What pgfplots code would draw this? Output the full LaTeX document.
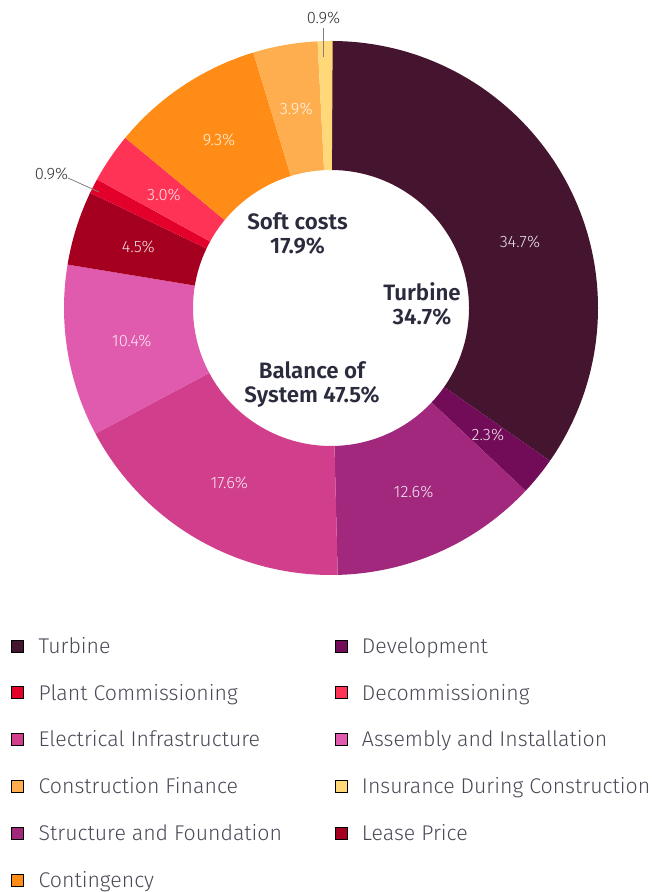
\documentclass[border=0pt]{standalone}
\usepackage{pgfplots}
\pgfplotsset{compat=1.18}
\usepackage{pgfplotstable}
\usepackage{fontspec}
\setmainfont{Fira Sans Light}[BoldFont={Fira Sans SemiBold}]

\definecolor{cTurb}{HTML}{45152F}
\definecolor{cDev}{HTML}{730C58}
\definecolor{cStruct}{HTML}{A2287E}
\definecolor{cElec}{HTML}{D13E8B}
\definecolor{cAssem}{HTML}{E05AAD}
\definecolor{cLease}{HTML}{A5001F}
\definecolor{cPlant}{HTML}{E3002A}
\definecolor{cDecom}{HTML}{FF3355}
\definecolor{cCont}{HTML}{FF8C16}
\definecolor{cFin}{HTML}{FFAE4F}
\definecolor{cIns}{HTML}{FFD87A}
\definecolor{legtext}{HTML}{4A4A58}
\definecolor{centertext}{HTML}{2A2B3D}

\pgfplotstableread[col sep=comma]{
name,val,col
Turbine,34.7,cTurb
Development,2.3,cDev
Structure and Foundation,12.6,cStruct
Electrical Infrastructure,17.6,cElec
Assembly and Installation,10.4,cAssem
Lease Price,4.5,cLease
Plant Commissioning,0.9,cPlant
Decommissioning,3.0,cDecom
Contingency,9.3,cCont
Construction Finance,3.9,cFin
Insurance During Construction,0.9,cIns
}\slicedata

\def\cum{0}
\pgfplotsforeachungrouped \i in {0,...,10}{%
  \pgfplotstablegetelem{\i}{val}\of\slicedata \let\v\pgfplotsretval
  \pgfplotstablegetelem{\i}{col}\of\slicedata \let\c\pgfplotsretval
  \pgfmathsetmacro\a{90-3.6*\cum}%
  \pgfmathsetmacro\cum{\cum+\v}%
  \pgfmathsetmacro\b{90-3.6*\cum}%
  \pgfmathsetmacro\m{(\a+\b)/2}%
  \expandafter\xdef\csname sA\i\endcsname{\a}%
  \expandafter\xdef\csname sB\i\endcsname{\b}%
  \expandafter\xdef\csname sM\i\endcsname{\m}%
  \expandafter\xdef\csname sV\i\endcsname{\v}%
  \colorlet{slice\i}{\c}%
}

\begin{document}
\begin{tikzpicture}
\begin{axis}[
  x=1pt, y=1pt,
  xmin=0, xmax=651, ymin=0, ymax=892,
  hide axis, clip=false,
  legend image code/.code={\fill[#1] (0pt,-6pt) rectangle (12pt,6pt);},
  legend cell align=left,
  legend columns=2,
  legend style={draw=none, fill=none, inner xsep=0pt, inner ysep=0pt,
    at={(axis cs:11,254)}, anchor=north west,
    font=\fontsize{21.3}{25}\selectfont, text=legtext,
    nodes={inner sep=0pt, text height=15pt, text depth=0pt},
    row sep=31.8pt,
    /tikz/every odd column/.append style={column sep=15pt},
    /tikz/every even column/.append style={column sep=56pt}},
]
\path (axis cs:0,0) rectangle (axis cs:651,892);

\pgfplotsinvokeforeach{0,...,10}{%
  \fill[fill=slice#1] ([shift={(axis cs:331,584)}]\csname sA#1\endcsname:267pt)
    arc[start angle=\csname sA#1\endcsname, end angle=\csname sB#1\endcsname, radius=267pt]
    -- ([shift={(axis cs:331,584)}]\csname sB#1\endcsname:138pt)
    arc[start angle=\csname sB#1\endcsname, end angle=\csname sA#1\endcsname, radius=138pt]
    -- cycle;
}

% inside labels
\pgfplotsinvokeforeach{1,2,3,4,5,7,8,9}{%
  \node[font=\fontsize{16.5}{19}\selectfont, text=white, text opacity=0.88]
    at ([shift={(axis cs:331,584)}]\csname sM#1\endcsname:202pt) {\csname sV#1\endcsname\%};
}
\node[font=\fontsize{16.5}{19}\selectfont, text=white, text opacity=0.88]
  at (axis cs:520,650) {\csname sV0\endcsname\%};

% outside labels
\draw[gray, line width=0.8pt] (axis cs:68,714) -- (axis cs:99,700);
\node[font=\fontsize{16.5}{19}\selectfont, text=black!80] at (axis cs:51.5,718) {\csname sV6\endcsname\%};
\draw[gray, line width=0.8pt] (axis cs:323,864) -- (axis cs:323,835);
\node[font=\fontsize{16.5}{19}\selectfont, text=black!80] at (axis cs:323.5,874) {\csname sV10\endcsname\%};

% center labels
\node[font=\bfseries\fontsize{22.3}{24}\selectfont, text=centertext, align=center]
  at (axis cs:297.5,659) {Soft costs\\17.9\%};
\node[font=\bfseries\fontsize{22.3}{24}\selectfont, text=centertext, align=center]
  at (axis cs:422,588) {Turbine\\34.7\%};
\node[font=\bfseries\fontsize{22.3}{24}\selectfont, text=centertext, align=center]
  at (axis cs:312,507) {Balance of\\System 47.5\%};

% legend
\addlegendimage{fill=cTurb}\addlegendentry{\makebox[240pt][l]{Turbine}}
\addlegendimage{fill=cDev}\addlegendentry{Development}
\addlegendimage{fill=cPlant}\addlegendentry{\makebox[240pt][l]{Plant Commissioning}}
\addlegendimage{fill=cDecom}\addlegendentry{Decommissioning}
\addlegendimage{fill=cElec}\addlegendentry{\makebox[240pt][l]{Electrical Infrastructure}}
\addlegendimage{fill=cAssem}\addlegendentry{Assembly and Installation}
\addlegendimage{fill=cFin}\addlegendentry{\makebox[240pt][l]{Construction Finance}}
\addlegendimage{fill=cIns}\addlegendentry{Insurance During Construction}
\addlegendimage{fill=cStruct}\addlegendentry{\makebox[240pt][l]{Structure and Foundation}}
\addlegendimage{fill=cLease}\addlegendentry{Lease Price}
\addlegendimage{fill=cCont}\addlegendentry{\makebox[240pt][l]{Contingency}}
\end{axis}
\end{tikzpicture}
\end{document}
